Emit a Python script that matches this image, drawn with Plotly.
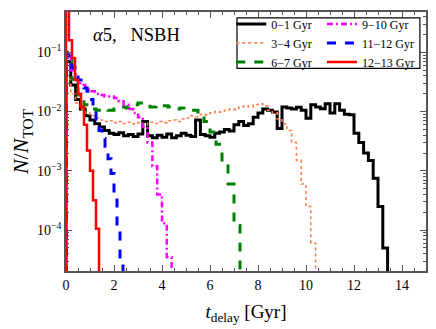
import plotly.graph_objects as go

# delay-time histograms, one per formation-time slice (bin width per series, Gyr)
black_bw = 0.2
black_vals = [
    0.07, 0.028, 0.016, 0.011, 0.0085, 0.0072, 0.0062, 0.0055, 0.0048, 0.0043,
    0.0041, 0.0044, 0.0039, 0.0041, 0.0038, 0.0042, 0.0068, 0.0039, 0.0036, 0.0040,
    0.0037, 0.0042, 0.0036, 0.0039, 0.0043, 0.0040, 0.0038, 0.0072, 0.0041, 0.0039,
    0.0037, 0.0043, 0.0045, 0.0050, 0.0047, 0.0060, 0.0068, 0.0058, 0.0062, 0.0080,
    0.0095, 0.0110, 0.0105, 0.0098, 0.0052, 0.0120, 0.0115, 0.0110, 0.0118, 0.0105,
    0.0077, 0.0130, 0.0120, 0.0112, 0.0136, 0.0095, 0.0135, 0.0105, 0.0090, 0.0088,
    0.0043, 0.0030, 0.0020, 0.0015, 7.5e-4, 2.5e-4, 5e-5,
]

orange_bw = 0.2
orange_vals = [
    0.035, 0.02, 0.014, 0.011, 0.0095, 0.0085, 0.0078, 0.0072, 0.0068, 0.0070,
    0.0065, 0.0068, 0.0063, 0.0066, 0.0062, 0.0065, 0.0060, 0.0066, 0.0063, 0.0068,
    0.0065, 0.0070, 0.0072, 0.0068, 0.0075, 0.0078, 0.0085, 0.0082, 0.0090, 0.0088,
    0.0095, 0.0100, 0.0098, 0.0105, 0.0110, 0.0108, 0.0120, 0.0125, 0.0120, 0.0130,
    0.0135, 0.0125, 0.0105, 0.0095, 0.0075, 0.0062, 0.0048, 0.0030, 0.0015, 6e-4,
    2.5e-4, 6e-5,
]

green_bw = 0.25
green_vals = [
    0.1, 0.035, 0.019, 0.013, 0.011, 0.0105, 0.011, 0.0105, 0.011, 0.012,
    0.0115, 0.013, 0.014, 0.0135, 0.012, 0.013, 0.0125, 0.012, 0.011, 0.0115,
    0.011, 0.0105, 0.009, 0.0068, 0.0045, 0.0028, 0.0014, 6e-4, 1.2e-4,
]

magenta_bw = 0.2
magenta_vals = [
    0.09, 0.05, 0.035, 0.028, 0.024, 0.022, 0.020, 0.019, 0.018, 0.018,
    0.017, 0.015, 0.013, 0.011, 0.0095, 0.008, 0.0055, 0.003, 0.0012, 4e-4,
    1.3e-4, 3.5e-5,
]

blue_bw = 0.125
blue_vals = [
    0.09, 0.07, 0.055, 0.042, 0.034, 0.029, 0.025, 0.022, 0.016, 0.011,
    0.0075, 0.0048, 0.0035, 0.0026, 0.0016, 9e-4, 4e-4, 1.1e-4, 3e-5,
]

red_bw = 0.125
red_vals = [0.8, 0.16, 0.08, 0.034, 0.02, 0.012, 0.006, 0.0022, 0.001, 3.2e-4, 1.05e-4]

series = [
    # name, bin width, values, colour, width, dash, legend column
    ("0\u22121 Gyr", black_bw, black_vals, "#000000", 3, "solid", "legend"),
    ("3\u22124 Gyr", orange_bw, orange_vals, "#ff7f50", 1.6, "dot", "legend"),
    ("6\u22127 Gyr", green_bw, green_vals, "#008000", 3, "dash", "legend"),
    ("9\u221210 Gyr", magenta_bw, magenta_vals, "#ff00ff", 2.5, "6px,3px,2px,3px", "legend2"),
    ("11\u221212 Gyr", blue_bw, blue_vals, "#0000ff", 3, "dash", "legend2"),
    ("12\u221213 Gyr", red_bw, red_vals, "#ff0000", 2.5, "solid", "legend2"),
]

FLOOR = 1e-9  # stands in for empty bins below the axis

fig = go.Figure()
for name, bw, vals, color, lw, dash, leg in series:
    edges = [i * bw for i in range(len(vals) + 1)]
    xs = [0.0] + edges + [edges[-1]]
    ys = [FLOOR] + list(vals) + [vals[-1], FLOOR]
    fig.add_trace(go.Scatter(
        x=xs, y=ys, mode="lines", name=name, legend=leg,
        line=dict(color=color, width=lw, dash=dash, shape="hv"),
    ))

font = "Liberation Serif, DejaVu Serif, serif"
axis_col = "#555555"
leg_style = dict(
    orientation="v", yanchor="top", xanchor="left", y=1.01,
    bgcolor="rgba(0,0,0,0)", borderwidth=0, font=dict(size=12),
    tracegroupgap=0, itemwidth=30,
)

# page body has an 8px margin, so margins are shifted to keep the plot box in place
fig.update_layout(
    width=436, height=329,
    margin=dict(l=58, r=18, t=1, b=66),
    paper_bgcolor="white", plot_bgcolor="white",
    font=dict(family=font, size=14, color="black"),
    showlegend=True,
    legend=dict(x=0.459, **leg_style),
    legend2=dict(x=0.711, **leg_style),
    shapes=[dict(
        type="rect", xref="paper", yref="paper", x0=0.475, x1=0.983, y0=0.782, y1=0.977,
        line=dict(color="black", width=1.2), fillcolor="white", layer="above",
    )],
    annotations=[dict(
        text="<i>\u03b1</i>5,\u2002 NSBH", x=0.069, y=0.91, xref="paper", yref="paper",
        xanchor="left", yanchor="middle", showarrow=False, font=dict(size=18.5),
    )],
)

fig.update_xaxes(
    range=[0, 15], tickvals=[0, 2, 4, 6, 8, 10, 12, 14],
    ticks="inside", ticklen=6, tickwidth=1, tickcolor=axis_col,
    minor=dict(ticks="inside", ticklen=3, tickcolor=axis_col, dtick=0.5, tick0=0),
    showline=True, linecolor=axis_col, linewidth=1.5, mirror="allticks",
    showgrid=False, zeroline=False, tickfont=dict(size=14), automargin=False,
    title=dict(text="<i>t</i><sub>delay</sub> [Gyr]\u2003", font=dict(size=19), standoff=13),
)

minor_y = [m * 10.0 ** e for e in range(-5, 0) for m in range(2, 10)]
fig.update_yaxes(
    type="log", range=[-4.69, -0.32],
    tickvals=[1e-4, 1e-3, 1e-2, 1e-1],
    ticktext=["10<sup>\u22124</sup>", "10<sup>\u22123</sup>", "10<sup>\u22122</sup>", "10<sup>\u22121</sup>"],
    ticks="inside", ticklen=6, tickwidth=1, tickcolor=axis_col,
    minor=dict(ticks="inside", ticklen=3, tickcolor=axis_col, tickvals=minor_y),
    showline=True, linecolor=axis_col, linewidth=1.5, mirror="allticks",
    showgrid=False, zeroline=False, tickfont=dict(size=14), automargin=False,
    title=dict(text="<i>N</i>/<i>N</i><sub>TOT</sub>", font=dict(size=22), standoff=2),
)

fig.write_html("out.html")
